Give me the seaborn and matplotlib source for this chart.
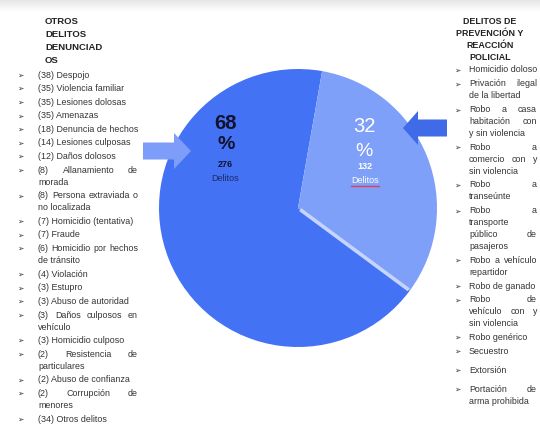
import numpy as np
import matplotlib
matplotlib.use("Agg")
import matplotlib.pyplot as plt
import seaborn as sns
from matplotlib.patches import Polygon
from matplotlib.lines import Line2D
from matplotlib.transforms import Affine2D

# ---------------------------------------------------------------- data
groups = ["Otros delitos denunciados", "Delitos de prevención y reacción policial"]
counts = [276, 132]

other_counts = [38, 35, 35, 35, 18, 14, 12, 8, 8, 7, 7, 6, 4, 3, 3, 3, 3, 2, 2, 2, 34]
other_names = [
    "Despojo", "Violencia familiar", "Lesiones dolosas", "Amenazas",
    "Denuncia de hechos", "Lesiones culposas", "Daños dolosos",
    "Allanamiento de\nmorada", "Persona extraviada o\nno localizada",
    "Homicidio (tentativa)", "Fraude", "Homicidio por hechos\nde tránsito",
    "Violación", "Estupro", "Abuso de autoridad", "Daños culposos en\nvehículo",
    "Homicidio culposo", "Resistencia de\nparticulares", "Abuso de confianza",
    "Corrupción de\nmenores", "Otros delitos",
]
other_title = ["OTROS", "DELITOS", "DENUNCIAD", "OS"]

police_names = [
    "Homicidio doloso", "Privación ilegal\nde la libertad",
    "Robo a casa\nhabitación con\ny sin violencia",
    "Robo a\ncomercio con y\nsin violencia", "Robo a\ntranseúnte",
    "Robo a\ntransporte\npúblico de\npasajeros", "Robo a vehículo\nrepartidor",
    "Robo de ganado", "Robo de\nvehículo con y\nsin violencia", "Robo genérico",
    "Secuestro", "Extorsión", "Portación de\narma prohibida",
]
police_extra_gap = [0, 0, 0, 0, 0, 0, 0, 0, 0, 0, 0, 5, 5]
police_title = ["DELITOS DE", "PREVENCIÓN Y", "REACCIÓN", "POLICIAL"]

# ---------------------------------------------------------------- style
sns.set_theme(style="white")
plt.rcParams["font.family"] = ["Liberation Sans", "DejaVu Sans"]

W, H = 540, 428
fig = plt.figure(figsize=(W / 100, H / 100), dpi=100)
fig.patch.set_facecolor("white")
renderer = fig.canvas.get_renderer()
pix = Affine2D().scale(1, -1).translate(0, H)   # pixel (from top) -> display


def fx(x, y):
    return x / W, 1 - y / H


# faint shadow band along the top edge
band = fig.add_axes([0, 1 - 12 / H, 1, 12 / H])
grad = np.linspace(0.90, 1.0, 32)[:, None] * np.ones((1, 8))
band.imshow(grad, cmap="gray", vmin=0, vmax=1, aspect="auto",
            extent=[0, 1, 0, 1], origin="upper")
band.axis("off")

# ---------------------------------------------------------------- pie
dark, light = sns.color_palette(["#4472f5", "#7fa0f9"])
cx, cy, r = 298, 208, 139
ax = fig.add_axes([(cx - r) / W, (H - cy - r) / H, 2 * r / W, 2 * r / H])
wedges, _ = ax.pie(counts, colors=[dark, light], startangle=80,
                   counterclock=True, radius=1,
                   wedgeprops=dict(linewidth=0))
ax.set_xlim(-1, 1)
ax.set_ylim(-1, 1)
ax.set_aspect("equal")
ax.axis("off")

# pale seam along the lower edge of the smaller slice
t2 = np.deg2rad(wedges[0].theta2)
ax.plot([0.02 * np.cos(t2), 0.99 * np.cos(t2)],
        [0.02 * np.sin(t2), 0.99 * np.sin(t2)],
        color="#c6d5fd", lw=2.6, solid_capstyle="butt", zorder=3)

total = sum(counts)
pct = [round(100 * c / total) for c in counts]

ax.text(-0.52, 0.61, f"{pct[0]}", ha="center", va="center", fontsize=14.5,
        fontweight="bold", color="#10122e")
ax.text(-0.52, 0.455, "%", ha="center", va="center", fontsize=14,
        fontweight="bold", color="#10122e")
ax.text(-0.52, 0.315, f"{counts[0]}", ha="center", va="center", fontsize=6.5,
        fontweight="bold", color="#10122e")
ax.text(-0.525, 0.215, "Delitos", ha="center", va="center", fontsize=6.5,
        color="#1d2a66")

ax.text(0.475, 0.585, f"{pct[1]}", ha="center", va="center", fontsize=14.5,
        color="white")
ax.text(0.475, 0.41, "%", ha="center", va="center", fontsize=14,
        color="white")
ax.text(0.48, 0.295, f"{counts[1]}", ha="center", va="center", fontsize=6.5,
        fontweight="bold", color="white")
lbl = ax.text(0.48, 0.195, "Delitos", ha="center", va="center", fontsize=6.5,
              color="white")
bb = lbl.get_window_extent(renderer)
fig.add_artist(Line2D([bb.x0, bb.x1], [bb.y0 - 0.5, bb.y0 - 0.5],
                      transform=None, color="#e0404e", lw=1.0))

# ---------------------------------------------------------------- arrows
def block_arrow(x0, x1, yc, body, head, head_len, color):
    d = 1 if x1 > x0 else -1
    xb = x1 - d * head_len
    pts = [(x0, yc - body), (xb, yc - body), (xb, yc - head), (x1, yc),
           (xb, yc + head), (xb, yc + body), (x0, yc + body)]
    fig.add_artist(Polygon(pts, closed=True, transform=pix, facecolor=color,
                           edgecolor="none", zorder=5))


block_arrow(143, 191, 151, 8.5, 18, 17, "#7d9df8")
block_arrow(447, 403, 128, 8.5, 17, 15, "#3f6ae8")

# ---------------------------------------------------------------- text lists
FS = 6.4
TXT = "#333333"


def paragraph(lines, x0, x1, y, gap, **kw):
    for i, line in enumerate(lines):
        yy = y + i * gap
        words = line.split()
        if i == len(lines) - 1 or len(words) == 1:
            fig.text(*fx(x0, yy), line, ha="left", va="center", **kw)
            continue
        texts = [fig.text(*fx(x0, yy), w, ha="left", va="center", **kw)
                 for w in words]
        widths = [t.get_window_extent(renderer).width for t in texts]
        space = (x1 - x0 - sum(widths)) / (len(words) - 1)
        space = max(space, 2.5)
        x = x0
        for t, w in zip(texts, widths):
            t.set_x(x / W)
            x += w + space


# left column
for i, line in enumerate(other_title):
    fig.text(*fx(45, 21 + i * 13.2), line, ha="left", va="center",
             fontsize=6.8, fontweight="bold", color="#222222")

y = 75
for n, name in zip(other_counts, other_names):
    lines = f"({n}) {name}".split("\n")
    fig.text(*fx(17, y), "➢", ha="left", va="center", fontsize=5.5,
             color=TXT, family=["DejaVu Sans"])
    paragraph(lines, 38, 138, y, 12.0, fontsize=FS, color=TXT)
    y += 13.6 + 12.0 * (len(lines) - 1)

# right column
for i, line in enumerate(police_title):
    fig.text(*fx(490, 21 + i * 12.2), line, ha="center", va="center",
             fontsize=6.4, fontweight="bold", color="#222222")

y = 70
for name, extra in zip(police_names, police_extra_gap):
    y += extra
    lines = name.split("\n")
    fig.text(*fx(454, y), "➢", ha="left", va="center", fontsize=5.5,
             color=TXT, family=["DejaVu Sans"])
    paragraph(lines, 469, 537, y, 11.8, fontsize=FS, color=TXT)
    y += 14.0 + 11.8 * (len(lines) - 1)

fig.savefig("out.png", dpi=100, facecolor="white")
